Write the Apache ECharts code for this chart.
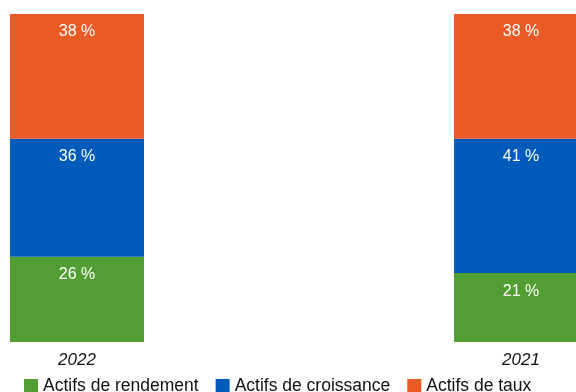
<!DOCTYPE html>
<html>
<head>
<meta charset="utf-8">
<script src="https://cdn.jsdelivr.net/npm/echarts@6/dist/echarts.min.js"></script>
<style>
html,body{margin:0;padding:0;background:#fff;}
#chart{width:576px;height:392px;}
</style>
</head>
<body>
<div id="chart"></div>
<script>
const categories = ['2022', '2021'];
const seriesNames = ['Actifs de rendement', 'Actifs de croissance', 'Actifs de taux'];
const rendement = [26, 21];
const croissance = [36, 41];
const taux = [38, 38];
const colors = ['#539E33', '#005BBB', '#E95A26'];

const values = [rendement, croissance, taux];
const font = '"Liberation Sans", Arial, Helvetica, sans-serif';

const chart = echarts.init(document.getElementById('chart'));
chart.setOption({
  animation: false,
  color: colors,
  grid: { left: 77, right: 55, top: 14, bottom: 50, containLabel: false },
  xAxis: {
    type: 'category',
    data: categories,
    boundaryGap: false,
    axisLine: { show: false },
    axisTick: { show: false },
    splitLine: { show: false },
    axisLabel: {
      fontFamily: font, fontSize: 17, fontStyle: 'italic', color: '#111',
      margin: 10, verticalAlign: 'top'
    }
  },
  yAxis: {
    type: 'value', min: 0, max: 100, show: false,
    splitLine: { show: false }
  },
  legend: {
    left: 19, top: 372,
    icon: 'rect', itemWidth: 14, itemHeight: 14, itemGap: 17,
    textStyle: { fontFamily: font, fontSize: 17.5, color: '#111' },
    data: seriesNames
  },
  series: seriesNames.map((name, i) => ({
    name: name,
    type: 'bar',
    stack: 'total',
    barWidth: 134,
    data: values[i],
    itemStyle: { color: colors[i] },
    label: {
      show: true,
      position: 'insideTop',
      distance: 10,
      formatter: p => p.value + ' %',
      fontFamily: font, fontSize: 16, color: '#fff'
    }
  }))
});
</script>
</body>
</html>
